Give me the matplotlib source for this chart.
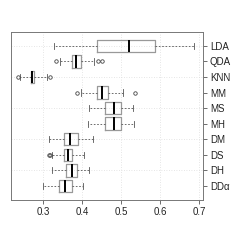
import matplotlib
matplotlib.use("Agg")
import matplotlib.pyplot as plt

plt.rcParams['font.family'] = ['Liberation Sans', 'DejaVu Sans']

labels = ["LDA", "QDA", "KNN", "MM", "MS", "MH", "DM", "DS", "DH", "DD\u03b1"]
whislo = [0.328, 0.344, 0.240, 0.396, 0.419, 0.415, 0.315, 0.323, 0.324, 0.300]
q1 =     [0.438, 0.373, 0.268, 0.438, 0.460, 0.460, 0.354, 0.354, 0.360, 0.341]
med =    [0.520, 0.385, 0.272, 0.451, 0.482, 0.482, 0.368, 0.364, 0.373, 0.355]
q3 =     [0.588, 0.397, 0.277, 0.466, 0.500, 0.501, 0.389, 0.374, 0.387, 0.373]
whishi = [0.688, 0.431, 0.309, 0.505, 0.530, 0.534, 0.428, 0.405, 0.419, 0.402]
fliers = [[], [0.332, 0.441, 0.451], [0.236, 0.319], [0.386, 0.535], [], [],
          [], [0.315, 0.318], [], []]

stats = []
for i in range(len(labels)):
  stats.append(dict(label=labels[i], whislo=whislo[i], q1=q1[i], med=med[i],
                    q3=q3[i], whishi=whishi[i], fliers=fliers[i]))

fig = plt.figure(figsize=(2.4, 2.4), dpi=100)
ax = fig.add_axes([0.046, 0.167, 0.8, 0.7])

n = len(labels)
pos = [n - i for i in range(n)]

# grid like R's grid(): vertical at x ticks, horizontal at even rows
for x in [0.3, 0.4, 0.5, 0.6, 0.7]:
  ax.axvline(x, color="#dddddd", lw=0.6, ls=(0, (1, 2)), zorder=0)
for y in [2, 4, 6, 8, 10]:
  ax.axhline(y, color="#dddddd", lw=0.6, ls=(0, (1, 2)), zorder=0)

ax.bxp(stats, positions=pos, vert=False, widths=0.8, capwidths=0.4,
       showfliers=True,
       boxprops=dict(color="#999999", lw=0.9),
       medianprops=dict(color="black", lw=1.4),
       whiskerprops=dict(color="#555555", lw=0.6, ls=(0, (2, 2))),
       capprops=dict(color="#555555", lw=0.6),
       flierprops=dict(marker="o", markersize=2.5, markerfacecolor="none",
                       markeredgecolor="#444444", markeredgewidth=0.6))

ax.set_xlim(0.218, 0.71)
ax.set_ylim(0.1, 10.9)
ax.set_xticks([0.3, 0.4, 0.5, 0.6, 0.7])
ax.set_xticklabels(["0.3", "0.4", "0.5", "0.6", "0.7"])
ax.set_yticks(pos)
ax.set_yticklabels(labels)
ax.yaxis.tick_right()
ax.tick_params(axis="both", labelsize=7, length=3, width=0.6, color="#555555",
               labelcolor="#222222", pad=2)
for s in ax.spines.values():
  s.set_color("#777777")
  s.set_linewidth(0.7)

fig.savefig("out.png", dpi=100)
